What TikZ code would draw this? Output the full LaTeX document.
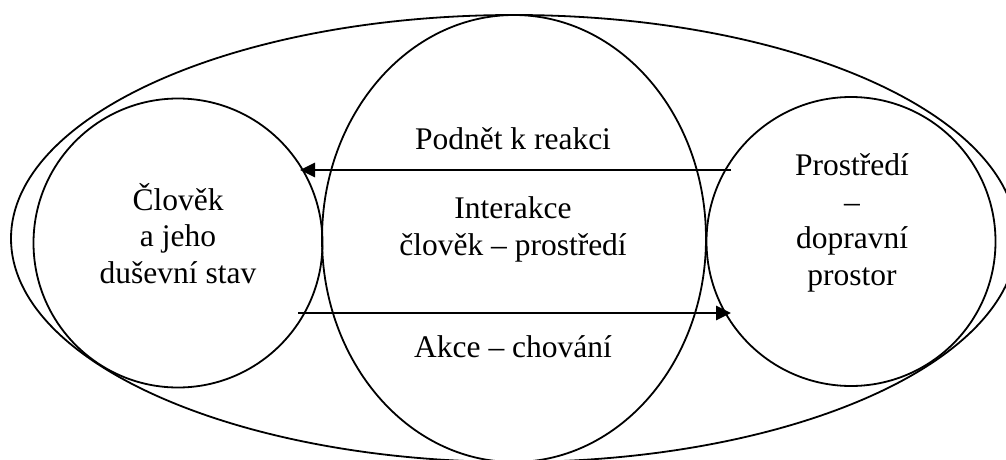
\documentclass[tikz,border=0pt]{standalone}
\usepackage{fontspec}
\setmainfont{Liberation Serif}
\usetikzlibrary{shapes.geometric,arrows.meta,calc}
\begin{document}
\begin{tikzpicture}[x=1pt,y=1pt,
  shp/.style={draw=black,line width=1.8pt,inner sep=0pt},
  ring/.style={shp,circle,minimum size=289pt},
  oval/.style={shp,ellipse},
  txt/.style={align=center,inner sep=0pt,font=\fontsize{31.5}{36.5}\selectfont},
  arr/.style={line width=2.8pt,-{Triangle[length=15pt,width=14pt]}}]
\useasboundingbox (0,0) rectangle (1006,459);
\node[oval,minimum width=1006pt,minimum height=447pt] (outer) at (514,220.5) {};
\node[oval,minimum width=384pt,minimum height=447pt] (mid) at (514,220.5) {};
\node[ring] (L) at (178,216) {};
\node[ring] (R) at (851,217.5) {};
\node[txt,anchor=base] (ltext) at (178,176) {Člověk\\a jeho\\duševní stav};
\node[txt,anchor=base] (rtext) at (852,174) {Prostředí\\–\\dopravní\\prostor};
\node[txt,anchor=base] (mtext) at (513,204) {Interakce\\člověk – prostředí};
\node[txt,anchor=base] (stim) at (513,310) {Podnět k reakci};
\node[txt,anchor=base] (act) at (513,102) {Akce – chování};
\coordinate (topS) at ($(R.center)+(-120,71.5)$);
\coordinate (topE) at ($(L.center)+(122,73)$);
\coordinate (botS) at ($(L.center)+(120,-70)$);
\coordinate (botE) at ($(R.center)+(-120,-71.5)$);
\draw[arr] (topS) -- (topE);
\draw[arr] (botS) -- (botE);
\end{tikzpicture}
\end{document}
